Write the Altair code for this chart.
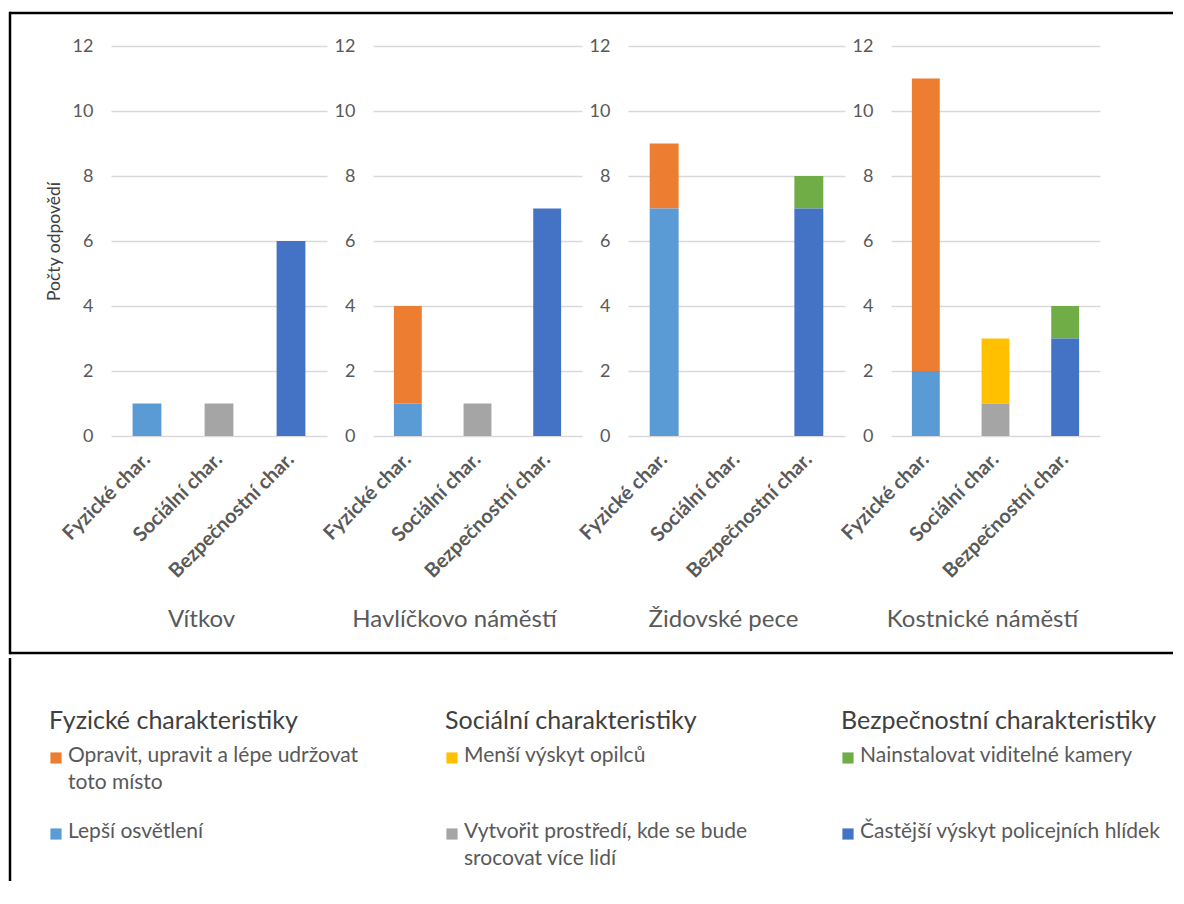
import altair as alt
import pandas as pd

# ---------------- data ----------------
lokality = ["Vítkov", "Havlíčkovo náměstí", "Židovské pece", "Kostnické náměstí"]
kategorie = ["Fyzické char.", "Sociální char.", "Bezpečnostní char."]
skupiny = ["Fyzické charakteristiky", "Sociální charakteristiky", "Bezpečnostní charakteristiky"]

# legend items (upper stack segment listed first within each group)
polozky = [
    "Opravit, upravit a lépe udržovat\ntoto místo",
    "Lepší osvětlení",
    "Menší výskyt opilců",
    "Vytvořit prostředí, kde se bude\nsrocovat více lidí",
    "Nainstalovat viditelné kamery",
    "Častější výskyt policejních hlídek",
]
skupina_polozky = [0, 0, 1, 1, 2, 2]
radek_polozky = [0, 1, 0, 1, 0, 1]

# counts per locality (Vítkov, Havlíčkovo n., Židovské pece, Kostnické n.)
opravit = [0, 3, 2, 9]
osvetleni = [1, 1, 7, 2]
opilci = [0, 0, 0, 2]
prostredi = [1, 1, 0, 1]
kamery = [0, 0, 1, 1]
hlidky = [6, 7, 7, 3]
hodnoty = [opravit, osvetleni, opilci, prostredi, kamery, hlidky]

barvy = ["#ED7D31", "#5B9BD5", "#FFC000", "#A5A5A5", "#70AD47", "#4472C4"]

rows = []
for p, name in enumerate(polozky):
    for i, lok in enumerate(lokality):
        rows.append({
            "lokalita": lok,
            "kategorie": kategorie[skupina_polozky[p]],
            "polozka": name,
            "radek": radek_polozky[p],
            "pocet": hodnoty[p][i],
        })
df = pd.DataFrame(rows)

leg_df = pd.DataFrame({
    "skupina": [skupiny[g] for g in skupina_polozky],
    "polozka": polozky,
    "radek": [str(r) for r in radek_polozky],
})
head_df = pd.DataFrame({"skupina": skupiny})

FONT = "Lato"
GRAY = "#595959"
BORDER = 2.5

color = alt.Color("polozka:N", scale=alt.Scale(domain=polozky, range=barvy), legend=None)

widths = [216, 209, 217, 209]
title_x = [90, 81, 95, 91]
one = alt.Data(values=[{"k": 1}])


def panel(i):
    w = widths[i]
    common = dict(
        values=[0, 2, 4, 6, 8, 10, 12], grid=True, gridColor="#D9D9D9", gridWidth=1.5,
        domain=False, ticks=False, tickSize=0, labelPadding=18,
        labelFont=FONT, labelFontSize=18, labelColor=GRAY,
    )
    if i == 0:
        yaxis = alt.Axis(
            title="Počty odpovědí", titleFont=FONT, titleFontSize=17.5, titleFontWeight="normal",
            titleColor="#404040", titleX=-57, titleY=195, titleAngle=270,
            titleAlign="center", titleBaseline="middle", **common,
        )
    else:
        yaxis = alt.Axis(title=None, **common)
    bars = alt.Chart(df).transform_filter(
        alt.datum.lokalita == lokality[i]
    ).transform_filter(alt.datum.pocet > 0).mark_bar().encode(
        x=alt.X("kategorie:N", sort=kategorie,
                scale=alt.Scale(domain=kategorie, paddingInner=0.6, paddingOuter=0.3),
                axis=alt.Axis(
                    title=lokality[i], labelAngle=-45, labelAlign="right", labelBaseline="middle",
                    labelPadding=20, labelFont=FONT, labelFontSize=20, labelFontWeight="bold",
                    labelColor=GRAY, domain=False, ticks=False, grid=False,
                    titleFont=FONT, titleFontSize=24, titleFontWeight="normal", titleColor=GRAY,
                    titleX=title_x[i], titleY=183, titleAlign="center", titleBaseline="middle",
                )),
        y=alt.Y("pocet:Q", stack="zero", scale=alt.Scale(domain=[0, 12], nice=False), axis=yaxis),
        color=color,
        order=alt.Order("radek:Q", sort="descending"),
    )
    layers = [bars]
    if i == 0:
        rule = alt.Chart(one).mark_rule(color="black", strokeWidth=BORDER)
        layers += [
            rule.encode(x=alt.value(-101), y=alt.value(-34.25), y2=alt.value(608.25)),
            rule.encode(x=alt.value(-101), x2=alt.value(1062), y=alt.value(-33)),
            rule.encode(x=alt.value(-101), x2=alt.value(1062), y=alt.value(607)),
        ]
    return alt.layer(*layers).properties(width=w, height=390)


panels = alt.hconcat(*[panel(i) for i in range(4)], spacing=46, bounds="flush")

# ---------------- legend ----------------
LX = -62  # legend columns start left of the first plot's origin
xs = alt.X("skupina:N", scale=alt.Scale(type="point", domain=skupiny, padding=0), axis=None)
ys = alt.Y("radek:N", scale=alt.Scale(type="point", domain=["0", "1"], padding=0), axis=None)

heads = alt.Chart(head_df).mark_text(
    align="left", baseline="middle", font=FONT, fontSize=25, color="#404040", dx=LX
).encode(x=xs, y=alt.value(-40), text="skupina:N")

squares = alt.Chart(leg_df).mark_square(
    size=125, filled=True, opacity=1, xOffset=LX + 7, yOffset=-3
).encode(x=xs, y=ys, color=color)

labels = alt.Chart(leg_df).mark_text(
    align="left", baseline="alphabetic", dx=LX + 19, dy=1, lineBreak="\n", lineHeight=27,
    font=FONT, fontSize=21, color=GRAY
).encode(x=xs, y=ys, text="polozka:N")

leg_rule = alt.Chart(one).mark_rule(color="black", strokeWidth=BORDER).encode(
    x=alt.value(-101), y=alt.value(-103), y2=alt.value(120)
)

legend = alt.layer(leg_rule, heads, squares, labels).properties(width=792, height=76)

chart = alt.vconcat(panels, legend, spacing=0).properties(
    padding={"left": 0, "top": 2, "right": 0, "bottom": 0}
).configure_view(stroke=None)

chart.save("out.html", embed_options={"renderer": "svg", "actions": False})
